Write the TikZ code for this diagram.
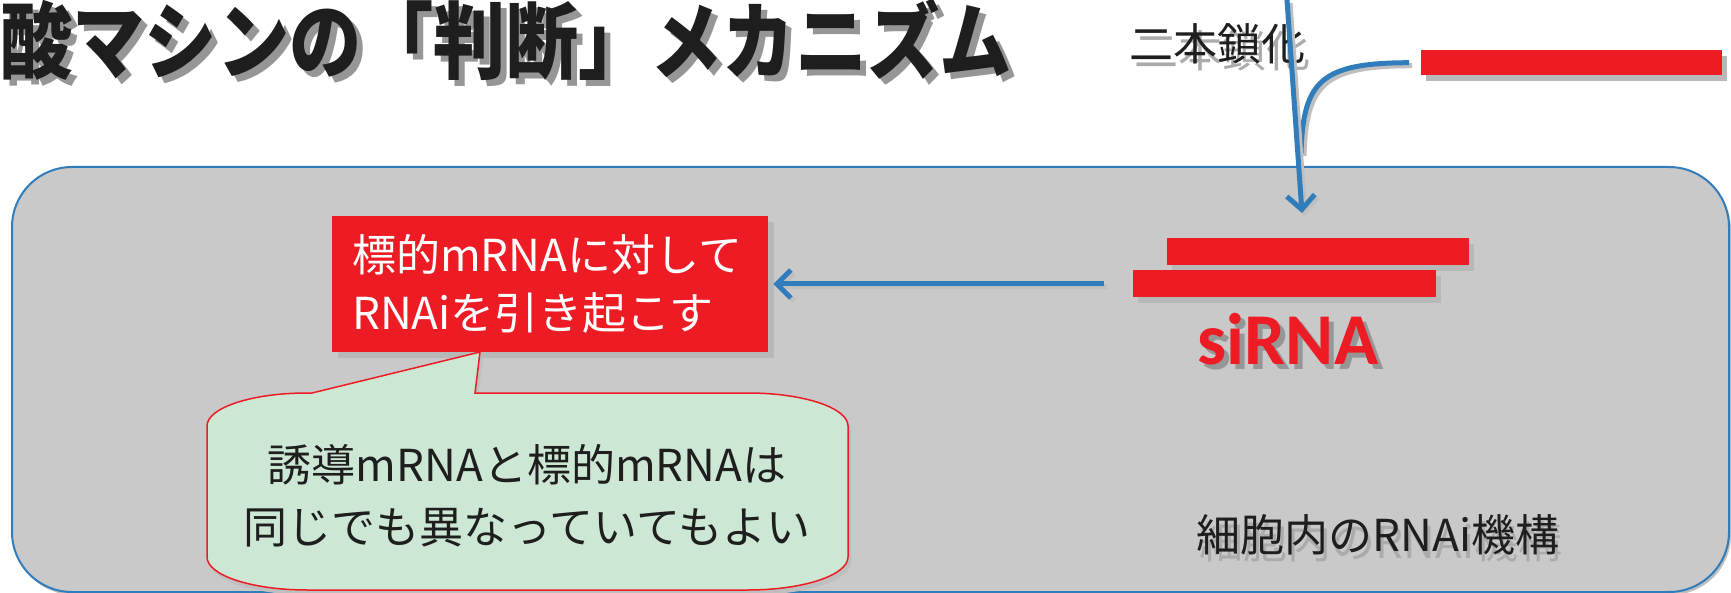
\documentclass[tikz,border=0pt]{standalone}
\usepackage{fontspec}
\newfontfamily\jp{Noto Sans CJK JP}
\newfontfamily\carl{Carlito}
\usetikzlibrary{arrows.meta,shadows}
\definecolor{bluel}{RGB}{49,125,187}
\definecolor{redb}{RGB}{237,28,36}
\definecolor{panelgray}{RGB}{201,201,201}
\definecolor{notegreen}{RGB}{205,231,213}
\definecolor{shade}{RGB}{150,150,150}
\definecolor{inkc}{RGB}{30,30,30}
\begin{document}
\begin{tikzpicture}[x=1pt,y=-1pt,
  panel/.style={draw=bluel, line width=2pt, fill=panelgray, rounded corners=60pt, inner sep=0pt,
    drop shadow={shadow xshift=2pt, shadow yshift=-3pt, fill=black!25, opacity=1}},
  bar/.style={fill=redb, draw=none, inner sep=0pt,
    drop shadow={shadow xshift=5pt, shadow yshift=-6pt, fill=black!28, opacity=1}},
  redbox/.style={fill=redb, draw=none, inner xsep=20pt, inner ysep=0pt, text=white,
    minimum height=136pt, text width=396pt, align=left,
    font=\jp\fontsize{44}{58}\selectfont,
    drop shadow={shadow xshift=6pt, shadow yshift=-6pt, fill=black!28, opacity=1}},
  flow/.style={draw=bluel, line width=5pt, -{Straight Barb[length=14pt,width=28pt]},
    preaction={draw=black!25, line width=5pt, transform canvas={shift={(3pt,-3pt)}}}},
  mergeline/.style={draw=bluel, line width=5pt,
    preaction={draw=black!25, line width=5pt, transform canvas={shift={(3pt,-3pt)}}}},
  jptext/.style={font=\jp\fontsize{44}{62}\selectfont, inner sep=0pt, text=inkc},
  jpshadow/.style={font=\jp\fontsize{44}{62}\selectfont, inner sep=0pt, text=shade!80},
  titlefont/.style={font=\jp\bfseries\fontsize{84}{90}\selectfont, anchor=east, inner sep=0pt},
]
\useasboundingbox (0,0) rectangle (1731,593);

% panel
\node[panel, minimum width=1717pt, minimum height=425pt, anchor=north west] (panel) at (11,166) {};

% title
\node[titlefont, text=shade] (titleshadow) at (1018,46) {\scalebox{0.86}[1]{酸マシンの「判断」メカニズム}};
\node[titlefont, text=inkc] (title) at (1012,40) {\scalebox{0.86}[1]{酸マシンの「判断」メカニズム}};

% double strand label
\node[jpshadow] (dslabelshadow) at (1222,51) {二本鎖化};
\node[jptext] (dslabel) at (1217,44) {二本鎖化};

% single strand (top right)
\node[bar, minimum width=301pt, minimum height=25pt, anchor=north west] (strand) at (1421,50) {};

% siRNA bars
\node[bar, minimum width=302pt, minimum height=27pt, anchor=north west] (sitop) at (1167,238) {};
\node[bar, minimum width=303pt, minimum height=27pt, anchor=north west] (sibottom) at (1133,270) {};
\node[font=\carl\bfseries\fontsize{73}{80}\selectfont, text=shade, anchor=base, inner sep=0pt] (sirnashadow) at (1293,369) {siRNA};
\node[font=\carl\bfseries\fontsize{73}{80}\selectfont, text=redb, anchor=base, inner sep=0pt] (sirna) at (1288,364) {siRNA};

% arrows from top
\coordinate (srcTop) at (1287,0);
\coordinate (dsTip) at (1302,213);
\coordinate (merge) at (1301,153);
\draw[mergeline] ([xshift=-12pt]strand.west) .. controls (1322,63) and (1303,80) .. (merge);
\draw[flow] (srcTop) -- (dsTip);

% target box
\node[redbox, anchor=north west] (target) at (332,216) {標的mRNAに対して\\RNAiを引き起こす};

% horizontal arrow
\coordinate (hstart) at (1104,284);
\draw[flow, shorten >=5pt] (hstart) -- (target.east |- hstart);

% callout
\draw[draw=redb, line width=1.5pt, fill=notegreen,
  drop shadow={shadow xshift=3pt, shadow yshift=-5pt, fill=black!25, opacity=1}]
  (312,393) -- (480,352) -- (475,393) -- (748,393)
  arc[start angle=90, end angle=0, x radius=100pt, y radius=33pt]
  -- (848,557)
  arc[start angle=0, end angle=-90, x radius=100pt, y radius=33pt]
  -- (307,590)
  arc[start angle=270, end angle=180, x radius=100pt, y radius=33pt]
  -- (207,426)
  arc[start angle=180, end angle=90, x radius=100pt, y radius=33pt]
  -- cycle;
\node[jptext, align=center] (note) at (527,496) {誘導mRNAと標的mRNAは\\同じでも異なっていてもよい};

% machinery label
\node[jpshadow] (machshadow) at (1381,542) {細胞内のRNAi機構};
\node[jptext] (mach) at (1378,535) {細胞内のRNAi機構};
\end{tikzpicture}
\end{document}
